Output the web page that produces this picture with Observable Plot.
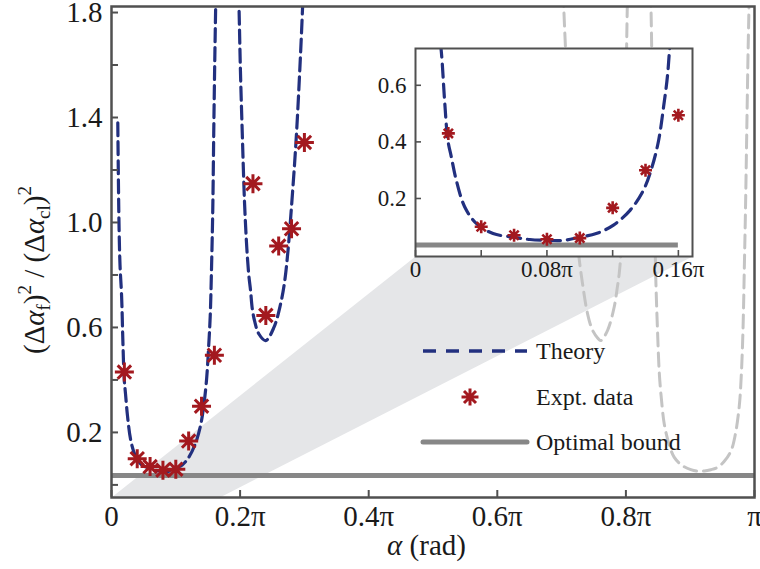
<!DOCTYPE html>
<html>
<head>
<meta charset="utf-8">
<script src="https://cdn.jsdelivr.net/npm/d3@7"></script>
<script src="https://cdn.jsdelivr.net/npm/@observablehq/plot@0.6"></script>
<style>
  html, body { margin: 0; padding: 0; background: #fff; }
  #fig { position: relative; width: 760px; height: 569px; overflow: hidden; }
  #fig svg { position: absolute; }
</style>
</head>
<body>
<div id="fig"></div>
<script>
// Angles α are stored in units of π.

// Measured points
const exptAlpha = [0.02, 0.04, 0.06, 0.08, 0.10, 0.12, 0.14, 0.16, 0.22, 0.24, 0.26, 0.28, 0.30];
const exptRatio = [0.43, 0.10, 0.07, 0.056, 0.06, 0.167, 0.30, 0.494, 1.148, 0.646, 0.91, 0.976, 1.305];

// Theory, first window
const theoryAlpha1 = [0.0098, 0.0115, 0.0132, 0.0157, 0.0177, 0.0197, 0.0218, 0.0248, 0.0299, 0.037, 0.0472, 0.0594, 0.0696, 0.08, 0.09, 0.10, 0.11, 0.1205, 0.1307, 0.1388, 0.144, 0.148, 0.151, 0.1535, 0.1556, 0.1575, 0.159, 0.1605, 0.162, 0.163];
const theoryRatio1 = [1.38, 1.02, 0.84, 0.72, 0.547, 0.406, 0.347, 0.265, 0.171, 0.112, 0.076, 0.0635, 0.055, 0.052, 0.052, 0.0635, 0.076, 0.106, 0.159, 0.23, 0.312, 0.406, 0.524, 0.641, 0.83, 1.05, 1.34, 1.6, 1.82, 1.95];

// Theory, second window
const theoryAlpha2 = [0.197, 0.1985, 0.2005, 0.2034, 0.207, 0.2105, 0.2135, 0.2163, 0.219, 0.223, 0.229, 0.2397, 0.2526, 0.263, 0.269, 0.274, 0.279, 0.287, 0.293, 0.297, 0.299];
const theoryRatio2 = [1.95, 1.80, 1.58, 1.338, 1.07, 0.9, 0.8, 0.74, 0.67, 0.62, 0.576, 0.55, 0.60, 0.69, 0.77, 0.88, 1.03, 1.31, 1.59, 1.81, 1.95];

// Symmetric counterparts near α = π
const mirrorAlpha1 = [0.8375, 0.839, 0.8405, 0.842, 0.844, 0.8455, 0.8467, 0.849, 0.852, 0.8555, 0.8596, 0.8665, 0.875, 0.887, 0.901, 0.912, 0.922, 0.932, 0.9427, 0.953, 0.9635, 0.970, 0.9763, 0.9795, 0.9816, 0.983, 0.984, 0.986, 0.988, 0.990, 0.9914, 0.992];
const mirrorRatio1 = [1.95, 1.82, 1.6, 1.34, 1.05, 0.9, 0.768, 0.6, 0.424, 0.32, 0.233, 0.16, 0.106, 0.075, 0.058, 0.052, 0.053, 0.058, 0.067, 0.09, 0.13, 0.19, 0.30, 0.42, 0.55, 0.68, 0.805, 1.05, 1.35, 1.65, 1.82, 1.95];
const mirrorAlpha2 = [0.7015, 0.7035, 0.7075, 0.7135, 0.7215, 0.7265, 0.7326, 0.7404, 0.748, 0.756, 0.761, 0.7715, 0.7818, 0.7865, 0.7896, 0.7922, 0.7955, 0.7985, 0.8005, 0.802, 0.8032];
const mirrorRatio2 = [1.95, 1.81, 1.59, 1.31, 1.03, 0.88, 0.766, 0.652, 0.59, 0.56, 0.55, 0.589, 0.678, 0.75, 0.805, 0.882, 1.07, 1.338, 1.58, 1.80, 1.95];

const optimalBound = 0.036;
const insetBoundRange = [0, 0.16];

const xTicks = [0, 0.2, 0.4, 0.6, 0.8, 1];
const yTicks = [0, 0.2, 0.4, 0.6, 0.8, 1.0, 1.2, 1.4, 1.6, 1.8];
const yLabelTicks = [0.2, 0.6, 1.0, 1.4, 1.8];
const insetXTicks = [0, 0.04, 0.08, 0.12, 0.16];
const insetXLabelTicks = [0, 0.08, 0.16];
const insetYTicks = [0.2, 0.4, 0.6];
const legendLabels = ["Theory", "Expt. data", "Optimal bound"];

// ---- styling ----
const FONT = "'Liberation Serif', 'Times New Roman', serif";
const INK = "#1a1a1a";
const BLUE = "#22307f";
const RED = "#a3191f";
const GRAY_DASH = "#c4c4c4";
const GRAY_BOUND = "#878787";
const WEDGE = "#e5e6e8";
const AXIS = "#505050";

// 8-spoke asterisk marker
const asterisk8 = {
  draw(context, size) {
    const r = Math.sqrt(size / Math.PI);
    const d = r * Math.SQRT1_2;
    context.moveTo(0, -r); context.lineTo(0, r);
    context.moveTo(-r, 0); context.lineTo(r, 0);
    context.moveTo(-d, -d); context.lineTo(d, d);
    context.moveTo(-d, d); context.lineTo(d, -d);
  }
};

const piFormat = v => v === 0 ? "0" : v === 1 ? "π" : `${v}π`;

const expt = exptAlpha.map((a, i) => ({alpha: a, ratio: exptRatio[i]}));
const theory = [
  ...theoryAlpha1.map((a, i) => ({alpha: a, ratio: theoryRatio1[i], branch: 1})),
  ...theoryAlpha2.map((a, i) => ({alpha: a, ratio: theoryRatio2[i], branch: 2}))
];
const mirror = [
  ...mirrorAlpha1.map((a, i) => ({alpha: a, ratio: mirrorRatio1[i], branch: 1})),
  ...mirrorAlpha2.map((a, i) => ({alpha: a, ratio: mirrorRatio2[i], branch: 2}))
];

// ---- main panel geometry ----
const W = 760, H = 569, mL = 111, mR = 6, mT = 6, mB = 72;
const innerW = W - mL - mR, innerH = H - mT - mB;
const xDomain = [0, 1], yDomain = [-0.048, 1.823];
const xMain = d3.scaleLinear(xDomain, [mL, W - mR]);
const yMain = d3.scaleLinear(yDomain, [H - mB, mT]);

// inset box, in page pixels
const insetBox = {left: 415, right: 692, top: 48, bottom: 256};
const insetXDomain = [0, 0.1686], insetYDomain = [-0.005, 0.73];

// shaded connector from the zoomed range to the inset
const wedge = [
  {alpha: insetXDomain[0], ratio: yDomain[0]},
  {alpha: insetXDomain[1], ratio: yDomain[0]},
  {alpha: xMain.invert(insetBox.right), ratio: yMain.invert(insetBox.bottom)},
  {alpha: xMain.invert(insetBox.left), ratio: yMain.invert(insetBox.bottom)}
];

const main = Plot.plot({
  width: W, height: H,
  marginLeft: mL, marginRight: mR, marginTop: mT, marginBottom: mB,
  style: {fontFamily: FONT, color: INK, background: "white", overflow: "visible"},
  x: {domain: xDomain},
  y: {domain: yDomain},
  marks: [
    Plot.line(wedge, {x: "alpha", y: "ratio", fill: WEDGE, stroke: "none"}),
    Plot.line(mirror, {x: "alpha", y: "ratio", z: "branch", stroke: GRAY_DASH, strokeWidth: 3,
      strokeDasharray: "13,7", curve: "catmull-rom", clip: true}),
    Plot.ruleY([optimalBound], {y: d => d, stroke: GRAY_BOUND, strokeWidth: 5}),
    Plot.line(theory, {x: "alpha", y: "ratio", z: "branch", stroke: BLUE, strokeWidth: 3.2,
      strokeDasharray: "13,6", curve: "catmull-rom", clip: true}),
    Plot.dot(expt, {x: "alpha", y: "ratio", symbol: asterisk8, r: 9.5, fill: "none",
      stroke: RED, strokeWidth: 3}),
    Plot.tickX(xTicks, {x: d => d, insetTop: innerH - 7, stroke: AXIS, strokeWidth: 2}),
    Plot.tickY(yTicks, {y: d => d, insetRight: innerW - 7, stroke: AXIS, strokeWidth: 2}),
    Plot.axisX({ticks: xTicks, tickSize: 0, tickPadding: 8, tickFormat: piFormat, label: null,
      fontSize: 29, fontFamily: FONT, fill: INK}),
    Plot.axisY({ticks: yLabelTicks, tickSize: 0, tickPadding: 9, tickFormat: d3.format(".1f"), label: null,
      fontSize: 29, fontFamily: FONT, fill: INK}),
    Plot.frame({stroke: AXIS, strokeWidth: 2.5})
  ]
});
main.style.left = "0px";
main.style.top = "0px";

const svg = d3.select(main);

// x-axis title
const xt = svg.append("text")
  .attr("x", (mL + W - mR) / 2 - 6).attr("y", 555)
  .attr("text-anchor", "middle").attr("font-size", 29).attr("fill", INK)
  .attr("font-family", FONT);
xt.append("tspan").attr("font-style", "italic").text("α");
xt.append("tspan").text(" (rad)");

// y-axis title with sub/superscripts
const yt = svg.append("text")
  .attr("transform", "translate(44,270) rotate(-90)")
  .attr("text-anchor", "middle").attr("font-size", 29).attr("fill", INK)
  .attr("font-family", FONT);
yt.append("tspan").text("(Δ");
yt.append("tspan").attr("font-style", "italic").text("α");
yt.append("tspan").attr("font-size", 19).attr("dy", 6).text("f");
yt.append("tspan").attr("dy", -6).text(")");
yt.append("tspan").attr("font-size", 19).attr("dy", -13).text("2");
yt.append("tspan").attr("dy", 13).text(" / (Δ");
yt.append("tspan").attr("font-style", "italic").text("α");
yt.append("tspan").attr("font-size", 19).attr("dy", 6).text("cl");
yt.append("tspan").attr("dy", -6).text(")");
yt.append("tspan").attr("font-size", 19).attr("dy", -13).text("2");

// legend
const legend = {x0: 423, x1: 527, textX: 536, rows: [351, 397, 442]};
const lg = svg.append("g").attr("font-family", FONT).attr("font-size", 24).attr("fill", INK)
  .attr("text-anchor", "start");
lg.append("line")
  .attr("x1", legend.x0).attr("x2", legend.x1).attr("y1", legend.rows[0]).attr("y2", legend.rows[0])
  .attr("stroke", BLUE).attr("stroke-width", 3.4).attr("stroke-dasharray", "13,10");
lg.append("path")
  .attr("transform", `translate(${(legend.x0 + legend.x1) / 2 - 5},${legend.rows[1]})`)
  .attr("d", d3.symbol(asterisk8, Math.PI * 72)())
  .attr("fill", "none").attr("stroke", RED).attr("stroke-width", 3);
lg.append("line")
  .attr("x1", legend.x0).attr("x2", legend.x1).attr("y1", legend.rows[2]).attr("y2", legend.rows[2])
  .attr("stroke", GRAY_BOUND).attr("stroke-width", 5).attr("stroke-linecap", "round");
legendLabels.forEach((t, i) => {
  lg.append("text").attr("x", legend.textX).attr("y", legend.rows[i]).attr("dy", "0.35em")
    .attr("text-anchor", "start").text(t);
});

// ---- inset panel ----
const iL = 50, iR = 10, iT = 4, iB = 32;
const iW = insetBox.right - insetBox.left, iH = insetBox.bottom - insetBox.top;
const inset = Plot.plot({
  width: iL + iW + iR, height: iT + iH + iB,
  marginLeft: iL, marginRight: iR, marginTop: iT, marginBottom: iB,
  style: {fontFamily: FONT, color: INK, background: "transparent", overflow: "visible"},
  x: {domain: insetXDomain},
  y: {domain: insetYDomain},
  marks: [
    Plot.frame({fill: "white", stroke: "none"}),
    Plot.ruleY([optimalBound], {y: d => d, x1: insetBoundRange[0], x2: insetBoundRange[1],
      stroke: GRAY_BOUND, strokeWidth: 5}),
    Plot.line(theory, {x: "alpha", y: "ratio", z: "branch", stroke: BLUE, strokeWidth: 3.2,
      strokeDasharray: "13,7", curve: "catmull-rom", clip: true}),
    Plot.dot(expt, {x: "alpha", y: "ratio", symbol: asterisk8, r: 6.5, fill: "none",
      stroke: RED, strokeWidth: 2.6, clip: true}),
    Plot.tickX(insetXTicks, {x: d => d, insetTop: iH - 6, stroke: AXIS, strokeWidth: 1.6}),
    Plot.tickY(insetYTicks, {y: d => d, insetRight: iW - 6, stroke: AXIS, strokeWidth: 1.6}),
    Plot.axisX({ticks: insetXLabelTicks, tickSize: 0, tickPadding: 4, tickFormat: piFormat, label: null,
      fontSize: 23, fontFamily: FONT, fill: INK}),
    Plot.axisY({ticks: insetYTicks, tickSize: 0, tickPadding: 9, tickFormat: d3.format(".1f"), label: null,
      fontSize: 23, fontFamily: FONT, fill: INK}),
    Plot.frame({stroke: AXIS, strokeWidth: 2})
  ]
});
inset.style.left = (insetBox.left - iL) + "px";
inset.style.top = (insetBox.top - iT) + "px";

const fig = document.getElementById("fig");
fig.appendChild(main);
fig.appendChild(inset);
</script>
</body>
</html>
